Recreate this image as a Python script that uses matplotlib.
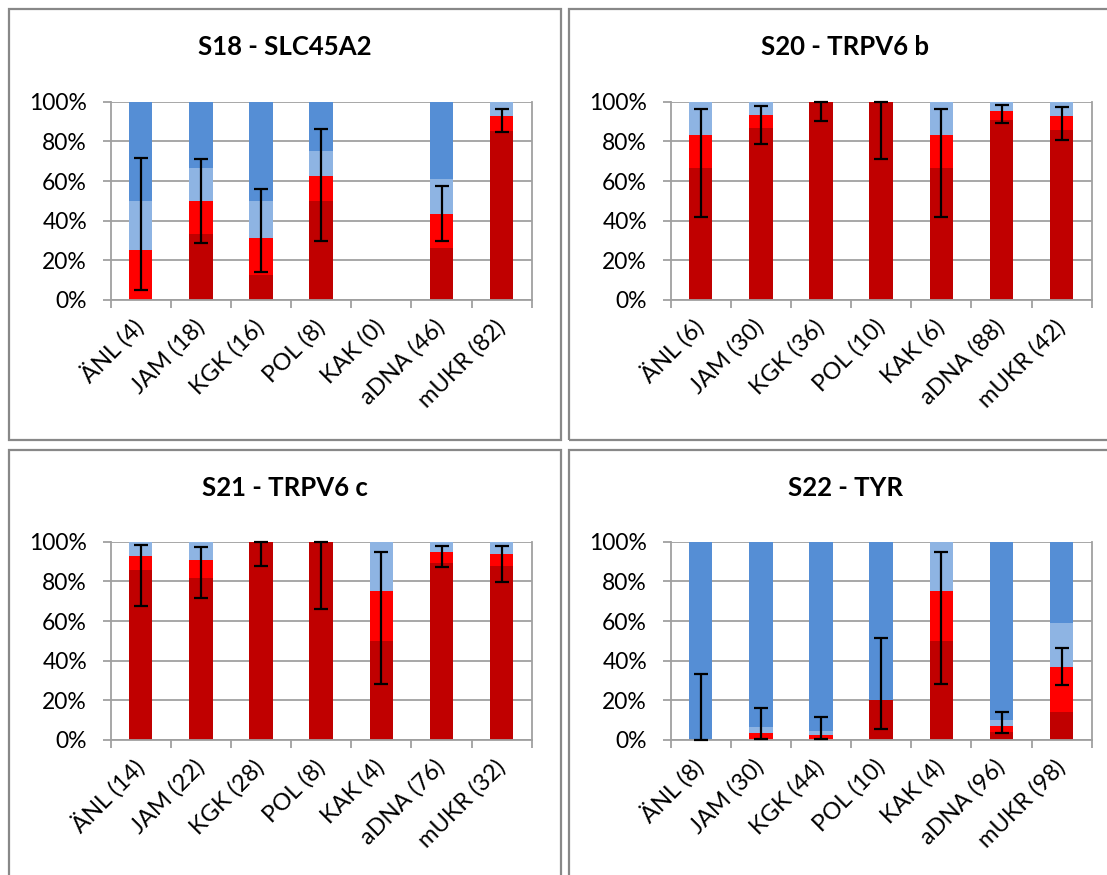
import numpy as np
import matplotlib
matplotlib.use("Agg")
import matplotlib.pyplot as plt
from matplotlib.patches import Rectangle
from matplotlib.transforms import ScaledTranslation

plt.rcParams['font.family'] = ['Lato', 'DejaVu Sans']

# ---- data (percent of chromosomes per population) ----
titles = ["S18 - SLC45A2", "S20 - TRPV6 b", "S21 - TRPV6 c", "S22 - TYR"]

cats_s18 = ["ÄNL (4)", "JAM (18)", "KGK (16)", "POL (8)", "KAK (0)", "aDNA (46)", "mUKR (82)"]
hom_der_s18 = [0, 33.3, 12.5, 50, 0, 26.1, 85.4]
het_half_s18 = [25, 16.7, 18.75, 12.5, 0, 17.4, 7.3]
hom_anc_s18 = [50, 33.3, 50, 25, 0, 39.1, 0]
ci_lo_s18 = [5.0, 28.6, 13.9, 29.7, np.nan, 29.9, 84.9]
ci_hi_s18 = [71.4, 71.1, 56.0, 86.2, np.nan, 57.6, 96.3]

cats_s20 = ["ÄNL (6)", "JAM (30)", "KGK (36)", "POL (10)", "KAK (6)", "aDNA (88)", "mUKR (42)"]
hom_der_s20 = [66.7, 86.7, 100, 100, 66.7, 90.9, 85.7]
het_half_s20 = [16.65, 6.65, 0, 0, 16.65, 4.55, 7.15]
hom_anc_s20 = [0, 0, 0, 0, 0, 0, 0]
ci_lo_s20 = [42.0, 78.5, 90.4, 71.3, 42.0, 89.1, 80.8]
ci_hi_s20 = [96.1, 98.0, 100, 100, 96.1, 98.3, 97.5]

cats_s21 = ["ÄNL (14)", "JAM (22)", "KGK (28)", "POL (8)", "KAK (4)", "aDNA (76)", "mUKR (32)"]
hom_der_s21 = [85.7, 81.8, 100, 100, 50, 89.5, 87.5]
het_half_s21 = [7.15, 9.1, 0, 0, 25, 5.25, 6.25]
hom_anc_s21 = [0, 0, 0, 0, 0, 0, 0]
ci_lo_s21 = [67.7, 71.8, 87.9, 66.2, 28.1, 87.2, 79.7]
ci_hi_s21 = [98.5, 97.1, 100, 100, 94.6, 97.8, 98.0]

cats_s22 = ["ÄNL (8)", "JAM (30)", "KGK (44)", "POL (10)", "KAK (4)", "aDNA (96)", "mUKR (98)"]
hom_der_s22 = [0, 0, 0, 20, 50, 4.2, 14.3]
het_half_s22 = [0, 3.3, 2.3, 0, 25, 3.0, 22.4]
hom_anc_s22 = [100, 93.4, 95.4, 80, 0, 89.8, 40.9]
ci_lo_s22 = [0, 0.6, 0.4, 5.5, 28.1, 3.4, 27.6]
ci_hi_s22 = [33.3, 16.3, 11.4, 51.6, 94.6, 13.9, 46.6]

panels = [
    (cats_s18, hom_der_s18, het_half_s18, hom_anc_s18, ci_lo_s18, ci_hi_s18),
    (cats_s20, hom_der_s20, het_half_s20, hom_anc_s20, ci_lo_s20, ci_hi_s20),
    (cats_s21, hom_der_s21, het_half_s21, hom_anc_s21, ci_lo_s21, ci_hi_s21),
    (cats_s22, hom_der_s22, het_half_s22, hom_anc_s22, ci_lo_s22, ci_hi_s22),
]

# ---- style ----
C_DARK = "#C00000"
C_RED = "#FF0000"
C_LBLUE = "#8EB4E3"
C_BLUE = "#558ED5"
C_GRID = "#A0A0A0"
C_BOX = "#888888"

W, H = 1107, 875
fig = plt.figure(figsize=(W / 100, H / 100), dpi=100)

def fx(px):
    return px / W

def fy(py):
    return 1 - py / H

# chart boxes (left, top, right, bottom in pixels)
boxes = [(9, 9, 561, 440), (569, 9, 1130, 440), (9, 450, 561, 900), (569, 450, 1130, 900)]
# plot areas (left, top, right, bottom in pixels)
areas = [(110.6, 101.7, 531.8, 300), (670.6, 101.7, 1091.8, 300),
         (110.6, 541.7, 531.8, 740), (670.6, 541.7, 1091.8, 740)]

for b in boxes:
    fig.patches.append(Rectangle((fx(b[0]), fy(b[3])), fx(b[2] - b[0]), (b[3] - b[1]) / H,
                                 transform=fig.transFigure, fill=False,
                                 edgecolor=C_BOX, linewidth=1.6))

label_shift = ScaledTranslation(5 / 100, 0, fig.dpi_scale_trans)

for i, (cats, dark, hh, anc, lo, hi) in enumerate(panels):
    l, t, r, btm = areas[i]
    ax = fig.add_axes([fx(l), fy(btm), fx(r - l), (btm - t) / H])
    x = np.arange(len(cats))
    dark = np.array(dark, float)
    hh = np.array(hh, float)
    anc = np.array(anc, float)
    width = 0.39
    ax.bar(x, dark, width, color=C_DARK, zorder=2)
    ax.bar(x, hh, width, bottom=dark, color=C_RED, zorder=2)
    ax.bar(x, hh, width, bottom=dark + hh, color=C_LBLUE, zorder=2)
    ax.bar(x, anc, width, bottom=dark + 2 * hh, color=C_BLUE, zorder=2)

    freq = dark + hh
    lo = np.array(lo, float)
    hi = np.array(hi, float)
    ok = ~np.isnan(lo)
    ax.errorbar(x[ok], freq[ok],
                yerr=[np.clip(freq[ok] - lo[ok], 0, None), np.clip(hi[ok] - freq[ok], 0, None)],
                fmt='none', ecolor='black', elinewidth=1.6, capsize=4.8,
                capthick=1.6, zorder=4, clip_on=False)

    ax.set_xlim(-0.5, len(cats) - 0.5)
    ax.set_ylim(0, 100)
    ax.set_yticks(np.arange(0, 101, 20))
    ax.set_yticklabels([f"{v}%" for v in range(0, 101, 20)], fontsize=16.5)
    ax.yaxis.grid(True, color=C_GRID, linewidth=1.3, zorder=0)
    ax.set_axisbelow(True)

    ax.set_xticks(np.arange(-0.5, len(cats), 1.0))
    ax.set_xticklabels([])
    ax.set_xticks(x, minor=True)
    ax.set_xticklabels(cats, minor=True, rotation=45, ha='right',
                       rotation_mode='anchor', va='center', fontsize=17)
    for lab in ax.get_xticklabels(minor=True):
        lab.set_transform(lab.get_transform() + label_shift)
    ax.tick_params(axis='x', which='major', length=6, width=1.3, color=C_GRID, direction='out')
    ax.tick_params(axis='x', which='minor', length=0, pad=17)
    ax.tick_params(axis='y', length=6, width=1.3, color=C_GRID, pad=11)

    for s in ['left', 'bottom', 'right']:
        ax.spines[s].set_color(C_GRID)
        ax.spines[s].set_linewidth(1.3)
    ax.spines['top'].set_visible(False)

    bx = boxes[i]
    cx = (bx[0] + min(bx[2], bx[0] + 552)) / 2
    fig.text(fx(cx), fy(bx[1] + 38), titles[i], ha='center', va='center',
             fontsize=18.5, fontweight='bold')

fig.savefig("out.png", dpi=100)
